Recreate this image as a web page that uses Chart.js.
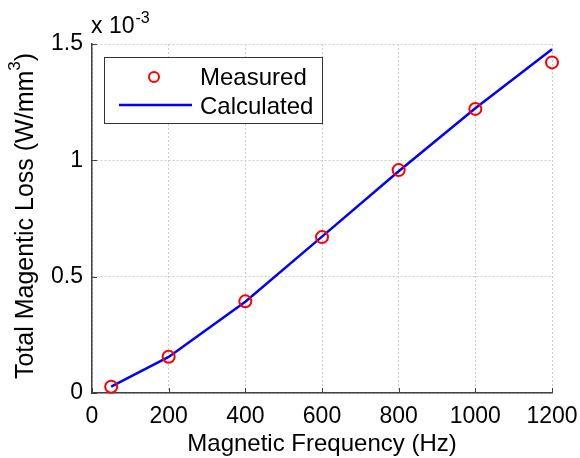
<!DOCTYPE html>
<html>
<head>
<meta charset="utf-8">
<script src="https://cdn.jsdelivr.net/npm/chart.js@4"></script>
<style>
  body { margin: 0; background: #fff; }
</style>
</head>
<body>
<canvas id="chart" width="580" height="458"></canvas>
<script>
// values in units of 10^-3 W/mm^3
var frequencies = [50, 200, 400, 600, 800, 1000, 1200];
var measuredLoss = [0.027, 0.156, 0.394, 0.670, 0.958, 1.221, 1.421];
var calculatedLoss = [0.027, 0.155, 0.392, 0.672, 0.953, 1.224, 1.477];
var xTicks = [0, 200, 400, 600, 800, 1000, 1200];
var yTicks = [0, 0.5, 1, 1.5];

var FONT = "'Liberation Sans', Arial, sans-serif";

function pairs(xs, ys) {
    return xs.map(function (x, i) { return {x: x, y: ys[i]}; });
}

// titles, legend box and inward tick marks, matlab style
var decorations = {
    id: 'decorations',
    afterDraw: function (chart) {
        var ctx = chart.ctx;
        var area = chart.chartArea;
        var xs = chart.scales.x;
        var ys = chart.scales.y;

        ctx.save();
        ctx.strokeStyle = '#404040';
        ctx.lineWidth = 1;
        ctx.beginPath();
        xTicks.forEach(function (v) {
            var px = Math.round(xs.getPixelForValue(v)) + 0.5;
            ctx.moveTo(px, area.bottom);
            ctx.lineTo(px, area.bottom - 5);
        });
        yTicks.forEach(function (v) {
            var py = Math.round(ys.getPixelForValue(v)) + 0.5;
            ctx.moveTo(area.left, py);
            ctx.lineTo(area.left + 5, py);
        });
        ctx.stroke();

        ctx.fillStyle = '#000';
        ctx.textBaseline = 'alphabetic';

        // x title
        ctx.font = '24px ' + FONT;
        ctx.textAlign = 'center';
        ctx.fillText('Magnetic Frequency (Hz)', (area.left + area.right) / 2, 451);

        // y title with superscript
        ctx.save();
        ctx.translate(33, 216);
        ctx.rotate(-Math.PI / 2);
        ctx.textAlign = 'left';
        var main = 'Total Magentic Loss (W/mm';
        ctx.font = '25px ' + FONT;
        var w1 = ctx.measureText(main).width;
        var w3 = ctx.measureText(')').width;
        ctx.font = '17px ' + FONT;
        var w2 = ctx.measureText('3').width;
        var x0 = -(w1 + w2 + w3) / 2;
        ctx.font = '25px ' + FONT;
        ctx.fillText(main, x0, 0);
        ctx.fillText(')', x0 + w1 + w2, 0);
        ctx.font = '17px ' + FONT;
        ctx.fillText('3', x0 + w1, -13);
        ctx.restore();

        // exponent label
        ctx.textAlign = 'left';
        ctx.font = '23px ' + FONT;
        ctx.fillText('x 10', area.left - 1, 33);
        var wx = ctx.measureText('x 10').width;
        ctx.font = '16px ' + FONT;
        ctx.fillText('-3', area.left - 1 + wx + 1, 23);

        // legend
        var lx = area.left + 12, ly = area.top + 13, lw = 218, lh = 66;
        ctx.fillStyle = '#fff';
        ctx.fillRect(lx, ly, lw, lh);
        ctx.strokeStyle = '#333';
        ctx.lineWidth = 1;
        ctx.strokeRect(lx + 0.5, ly + 0.5, lw, lh);

        var ds = chart.data.datasets;
        ctx.strokeStyle = ds[0].borderColor;
        ctx.lineWidth = ds[0].borderWidth;
        ctx.beginPath();
        ctx.arc(lx + 50, ly + 20, ds[0].pointRadius - 1, 0, Math.PI * 2);
        ctx.stroke();

        ctx.strokeStyle = ds[1].borderColor;
        ctx.lineWidth = ds[1].borderWidth;
        ctx.beginPath();
        ctx.moveTo(lx + 15, ly + 48);
        ctx.lineTo(lx + 88, ly + 48);
        ctx.stroke();

        ctx.fillStyle = '#000';
        ctx.font = '24px ' + FONT;
        ctx.fillText(ds[0].label, lx + 96, ly + 28);
        ctx.fillText(ds[1].label, lx + 96, ly + 57);
        ctx.restore();
    }
};

new Chart(document.getElementById('chart'), {
    type: 'scatter',
    plugins: [decorations],
    data: {
        datasets: [{
            label: 'Measured',
            data: pairs(frequencies, measuredLoss),
            showLine: false,
            borderColor: '#ff0000',
            backgroundColor: 'rgba(0,0,0,0)',
            borderWidth: 2,
            pointRadius: 6,
            clip: false,
            order: 0
        }, {
            label: 'Calculated',
            data: pairs(frequencies, calculatedLoss),
            showLine: true,
            borderColor: '#0000ff',
            backgroundColor: '#0000ff',
            borderWidth: 2.5,
            pointRadius: 0,
            tension: 0,
            clip: false,
            order: 1
        }]
    },
    options: {
        responsive: false,
        animation: false,
        events: [],
        layout: {padding: {left: 0, top: 44, right: 28, bottom: 0}},
        plugins: {
            legend: {display: false},
            tooltip: {enabled: false}
        },
        scales: {
            x: {
                type: 'linear',
                min: 0,
                max: 1200,
                afterFit: function (s) {
                    s.height = 65;
                    s.paddingLeft = 0;
                    s.paddingRight = 0;
                },
                afterBuildTicks: function (s) {
                    s.ticks = xTicks.map(function (v) { return {value: v}; });
                },
                ticks: {
                    color: '#000',
                    font: {family: FONT, size: 23},
                    padding: 10,
                    maxRotation: 0,
                    callback: function (v) { return String(v); }
                },
                grid: {
                    color: '#cccccc',
                    lineWidth: 1,
                    drawTicks: false
                },
                border: {color: '#404040', width: 1.5, dash: [2, 2], display: true}
            },
            y: {
                type: 'linear',
                min: 0,
                max: 1.5,
                afterFit: function (s) {
                    s.width = 92;
                    s.paddingTop = 0;
                    s.paddingBottom = 0;
                },
                afterBuildTicks: function (s) {
                    s.ticks = yTicks.map(function (v) { return {value: v}; });
                },
                ticks: {
                    color: '#000',
                    font: {family: FONT, size: 23},
                    padding: 9,
                    callback: function (v) { return String(v); }
                },
                grid: {
                    color: '#cccccc',
                    lineWidth: 1,
                    drawTicks: false
                },
                border: {color: '#404040', width: 1.5, dash: [2, 2], display: true}
            }
        }
    }
});
</script>
</body>
</html>
